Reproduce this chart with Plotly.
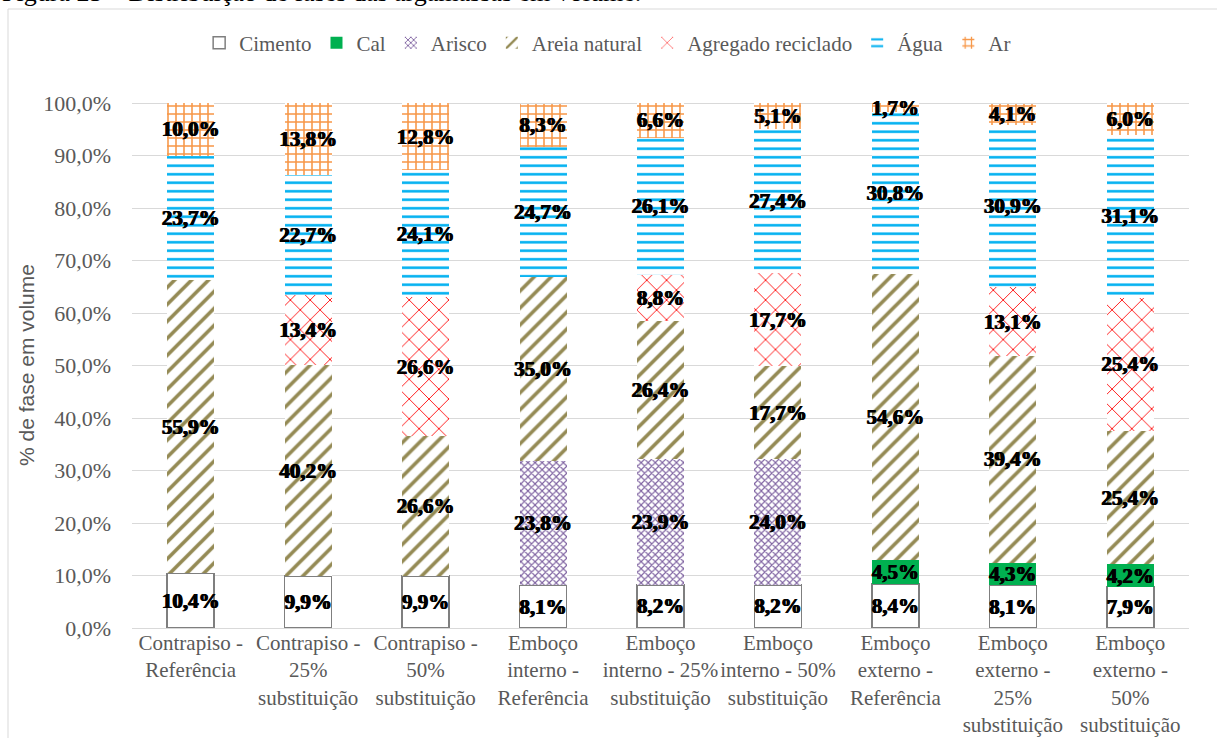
import plotly.graph_objects as go

# Mortar mixes (x categories)
categorias = [
    "Contrapiso -<br>Referência",
    "Contrapiso -<br>25%<br>substituição",
    "Contrapiso -<br>50%<br>substituição",
    "Emboço<br>interno -<br>Referência",
    "Emboço<br>interno - 25%<br>substituição",
    "Emboço<br>interno - 50%<br>substituição",
    "Emboço<br>externo -<br>Referência",
    "Emboço<br>externo -<br>25%<br>substituição",
    "Emboço<br>externo -<br>50%<br>substituição",
]

# Volume fraction of each phase (%); None = phase absent from the mix
cimento = [10.4, 9.9, 9.9, 8.1, 8.2, 8.2, 8.4, 8.1, 7.9]
cal = [None, None, None, None, None, None, 4.5, 4.3, 4.2]
arisco = [None, None, None, 23.8, 23.9, 24.0, None, None, None]
areia_natural = [55.9, 40.2, 26.6, 35.0, 26.4, 17.7, 54.6, 39.4, 25.4]
agregado_reciclado = [None, 13.4, 26.6, None, 8.8, 17.7, None, 13.1, 25.4]
agua = [23.7, 22.7, 24.1, 24.7, 26.1, 27.4, 30.8, 30.9, 31.1]
ar = [10.0, 13.8, 12.8, 8.3, 6.6, 5.1, 1.7, 4.1, 6.0]

SERIF = "Liberation Serif, Times New Roman, serif"
GRAY = "#595959"

series = [
    ("Cimento", cimento, dict(color="white", line=dict(color="#7F7F7F", width=1.5))),
    ("Cal", cal, dict(color="#00B050", line=dict(width=0))),
    ("Arisco", arisco, dict(color="white", line=dict(width=0),
                            pattern=dict(shape="x", fgcolor="#8064A2", bgcolor="white",
                                         size=5, solidity=0.4, fillmode="replace"))),
    ("Areia natural", areia_natural, dict(color="white", line=dict(width=0),
                                          pattern=dict(shape="/", fgcolor="#948A54", bgcolor="white",
                                                       size=12, solidity=0.3, fillmode="replace"))),
    ("Agregado reciclado", agregado_reciclado, dict(color="white", line=dict(width=0),
                                                    pattern=dict(shape="x", fgcolor="#FF0000", bgcolor="white",
                                                                 size=14, solidity=0.12, fillmode="replace"))),
    ("Água", agua, dict(color="white", line=dict(width=0),
                        pattern=dict(shape="-", fgcolor="#00B0F0", bgcolor="white",
                                     size=8.5, solidity=0.3, fillmode="replace"))),
    ("Ar", ar, dict(color="white", line=dict(width=0),
                    pattern=dict(shape="+", fgcolor="#F79646", bgcolor="white",
                                 size=8, solidity=0.35, fillmode="replace"))),
]

fig = go.Figure()
for nome, valores, marcador in series:
    fig.add_trace(go.Bar(
        name=nome,
        x=categorias,
        y=valores,
        marker=marcador,
        texttemplate="%{y:.1f}%",
        textposition="inside",
        insidetextanchor="middle",
        textangle=0,
        constraintext="none",
        cliponaxis=False,
        textfont=dict(family=SERIF, size=21, color="black", weight="bold",
                      shadow="0.6px 0 0 black, -0.6px 0 0 black"),
        hoverinfo="skip",
    ))

fig.update_layout(
    barmode="stack",
    bargap=0.6,
    separators=",.",
    width=1217,
    height=738,
    margin=dict(l=132, r=28, t=102, b=110),
    paper_bgcolor="white",
    plot_bgcolor="white",
    font=dict(family=SERIF, color=GRAY),
    showlegend=True,
    legend=dict(
        orientation="h",
        traceorder="normal",
        x=0.45, xanchor="center",
        y=1.112, yanchor="middle",
        font=dict(family=SERIF, size=21, color=GRAY),
        itemwidth=30,
    ),
    xaxis=dict(
        tickfont=dict(family=SERIF, size=21, color=GRAY),
        tickangle=0,
        automargin=False,
        showgrid=False,
        showline=False,
        ticks="",
    ),
    yaxis=dict(
        # small headroom so stacks summing to 100,1% stay fully in range
        range=[0, 100.2],
        tick0=0,
        dtick=10,
        tickformat=".1f",
        ticksuffix="%",
        tickfont=dict(family=SERIF, size=22, color=GRAY),
        gridcolor="#D9D9D9",
        gridwidth=1,
        zeroline=True,
        zerolinecolor="#D9D9D9",
        zerolinewidth=1,
        showline=False,
        ticks="",
        automargin=False,
        ticklabelstandoff=20,
        title=dict(text="% de fase em volume",
                   font=dict(family="Liberation Sans, Arial, sans-serif", size=21, color=GRAY),
                   standoff=2),
    ),
    shapes=[dict(
        type="rect", xref="paper", yref="paper",
        x0=-0.1173, x1=1.2, y0=-0.5, y1=1.1768,
        line=dict(color="#D9D9D9", width=1),
        fillcolor="rgba(0,0,0,0)",
        layer="below",
    )],
    annotations=[dict(
        text="Figura 25 – Distribuição de fases das argamassas em volume.",
        xref="paper", yref="paper",
        x=-0.1249, xanchor="left",
        y=1.2076, yanchor="middle",
        showarrow=False,
        font=dict(family=SERIF, size=26, color="black"),
    )],
)

fig.write_html("out.html")
